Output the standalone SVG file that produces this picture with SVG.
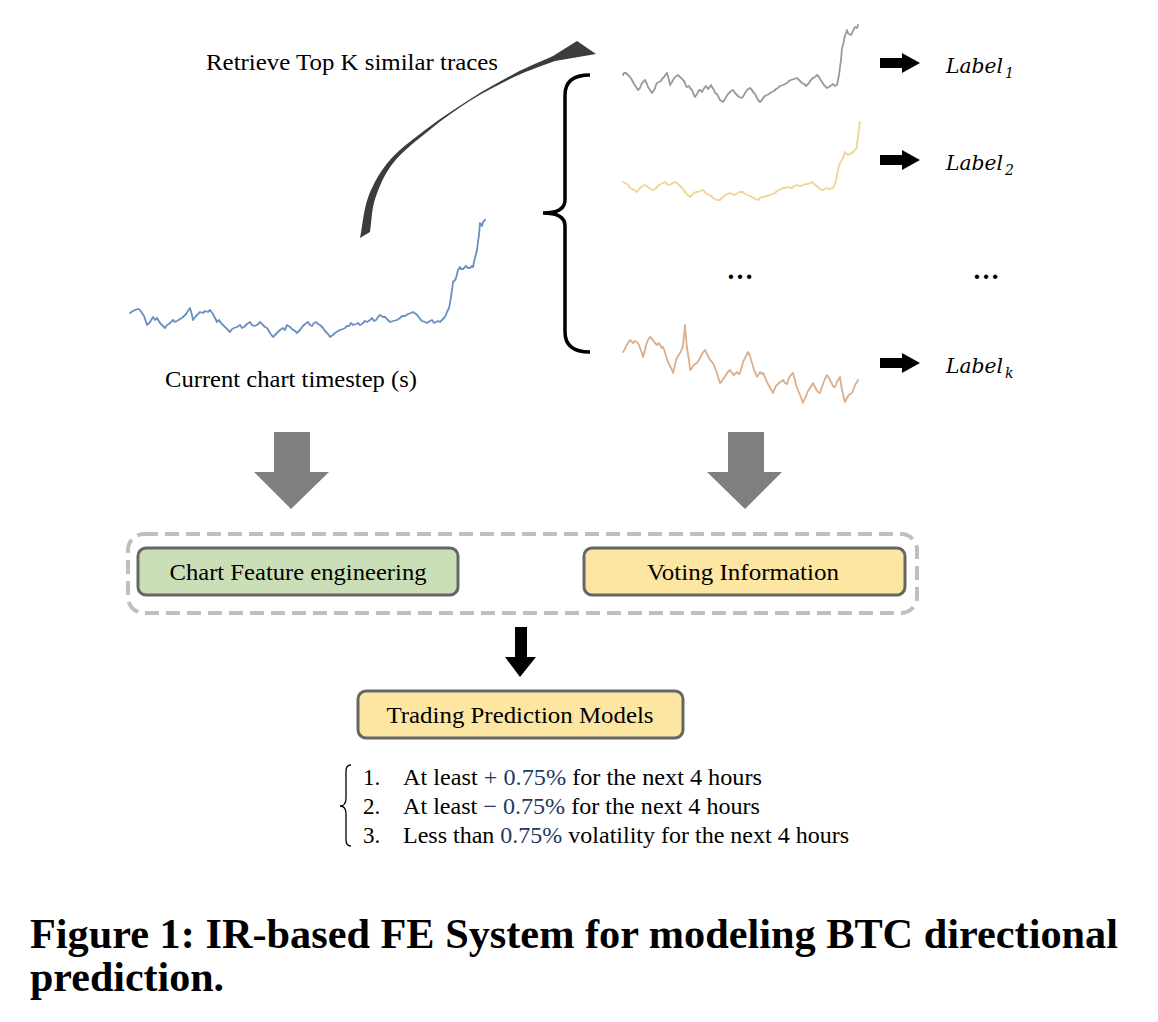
<svg xmlns="http://www.w3.org/2000/svg" width="1158" height="1022" viewBox="0 0 1158 1022">
<style>
.t{font-family:"Liberation Serif","Times New Roman",serif;fill:#000}
.lbl{font-family:"DejaVu Serif",serif;font-style:italic;fill:#000}
.trace{fill:none;stroke-width:1.8;stroke-linejoin:round;stroke-linecap:round}
.box{stroke:#666;stroke-width:3}
.m{fill:#1f3a60}
</style>
<rect width="1158" height="1022" fill="#fff"/>
<g id="retrieve-label"><text class="t" x="206" y="70" font-size="24" textLength="292" lengthAdjust="spacingAndGlyphs">Retrieve Top K similar traces</text></g>
<g id="current-chart">
<polyline class="trace" stroke="#6a8fc0" points="130,313 133,311 135,310 138,309 140,310 142,313 144,316 147,325 150,322 153,317 155,320 157,318 160,323 163,326 165,328 167,325 169,324 171,322 173,320 175,322 177,321 180,319 182,318 184,316 186,314 188,311 190,308 192,315 193,320 196,316 198,314 200,312 203,313 205,311 208,312 210,310 213,314 215,318 217,322 219,320 221,323 223,325 225,327 228,330 230,332 232,329 234,328 237,327 240,325 242,328 244,327 247,324 250,322 252,325 254,326 257,325 260,322 262,324 265,327 267,328 270,333 273,337 275,335 278,332 280,330 283,328 285,330 287,325 290,327 292,329 295,331 297,333 300,330 302,327 305,324 308,322 310,325 312,326 314,323 316,322 318,324 320,325 323,328 325,331 328,334 330,337 333,335 335,333 338,331 340,330 343,329 345,328 347,326 349,326 351,323 353,325 356,324 358,323 360,325 362,324 365,321 367,322 370,320 372,318 374,321 376,320 378,317 380,315 383,317 385,317 388,320 390,322 393,321 397,320 400,318 402,316 405,316 408,314 411,313 413,312 416,314 418,316 420,319 422,321 425,322 427,323 430,321 432,320 434,323 436,322 438,321 440,322 442,320 444,318 446,315 447,312 449,308 450,303 452,290 453,282 455,280 456,278 457,274 458,270 460,267 461,269 463,269 465,267 466,266 468,268 470,268 472,266 473,267 474,262 475,258 476,254 477,250 478,242 479,235 480,223 482,226 483,222 485,220"/>
<text class="t" x="165" y="387" font-size="24" textLength="252" lengthAdjust="spacingAndGlyphs">Current chart timestep (s)</text>
</g>
<g id="trace-1">
<polyline class="trace" stroke="#9a9a9a" points="623,75 624,73 626,73 628,75 630,77 632,80 634,84 636,87 638,90 640,88 641,85 643,82 645,80 647,84 648,87 650,90 652,93 654,90 655,88 656,85 657,83 659,82 661,81 662,79 664,77 666,74 667,73 669,80 670,85 672,82 673,80 675,77 678,75 680,77 682,79 684,81 685,83 686,86 687,87 689,86 690,88 692,90 693,93 694,95 695,97 697,94 698,92 699,90 700,90 702,92 703,90 705,87 706,86 708,89 709,88 711,85 712,87 714,90 715,93 717,94 718,96 720,100 723,102 725,99 726,97 728,94 730,92 731,91 733,90 735,93 737,95 739,97 742,98 744,95 745,93 747,90 750,88 752,90 753,92 755,94 756,96 758,100 760,102 762,100 763,98 765,96 767,95 769,94 770,93 772,92 774,91 776,89 778,88 780,86 783,85 785,84 787,83 789,81 791,80 794,79 797,78 799,80 800,81 802,83 804,84 806,86 807,85 809,83 810,81 812,79 813,78 815,77 817,75 819,77 820,79 822,82 824,85 826,87 827,88 829,87 830,86 832,85 833,84 835,86 837,85 838,80 839,75 840,67 841,60 842,48 843,45 844,40 845,36 847,30 848,33 849,34 851,35 852,33 854,29 855,27 857,28 858,25"/>
</g>
<g id="trace-2">
<polyline class="trace" stroke="#f0d596" points="623,182 625,183 627,184 629,186 630,188 632,189 634,190 636,191 637,192 639,189 641,187 643,186 645,185 647,186 649,188 651,189 653,190 655,189 657,187 659,185 661,184 663,183 665,182 667,184 669,185 671,184 673,183 675,182 677,183 679,185 681,187 683,189 685,192 687,194 688,195 690,197 692,195 694,193 696,192 698,192 700,191 703,190 705,192 707,194 709,195 711,196 713,198 715,199 717,200 720,200 722,198 724,196 727,194 730,193 732,194 734,195 736,194 738,193 740,192 743,192 745,194 747,195 750,196 752,197 755,199 758,200 760,198 762,197 764,197 766,196 768,196 770,195 772,194 775,193 777,191 779,190 781,189 783,188 785,188 788,187 790,188 792,188 794,186 797,185 799,186 801,186 803,185 806,184 808,184 810,183 812,182 813,183 815,185 817,186 819,188 820,189 822,190 823,190 825,189 827,188 829,189 830,189 832,188 833,188 835,184 836,180 837,175 838,170 839,166 840,163 842,160 843,158 844,155 845,152 847,154 848,155 850,154 851,153 852,153 853,152 854,151 855,150 856,149 857,147 857,143 858,138 859,128 860,122"/>
</g>
<g id="trace-k">
<polyline class="trace" stroke="#dcae8a" points="623,352 625,349 626,346 628,343 630,340 632,342 633,343 635,341 637,342 639,345 640,348 642,353 643,357 645,350 646,345 648,340 650,337 652,339 653,340 655,343 657,345 659,343 660,345 662,348 663,347 665,352 666,356 668,362 670,366 672,370 673,373 675,365 676,360 678,356 680,353 682,349 683,345 684,335 685,325 686,338 687,348 689,360 690,370 692,368 693,366 695,364 697,363 699,360 700,358 702,354 705,350 707,354 708,356 710,360 712,362 714,365 715,368 717,373 718,377 719,380 720,383 722,381 724,378 726,375 727,373 729,371 730,370 732,373 734,375 736,373 737,372 739,374 740,373 742,366 743,362 745,358 746,356 747,354 748,352 750,356 751,360 753,366 754,370 756,374 757,377 759,374 760,372 762,374 763,373 765,377 766,380 768,384 770,388 772,391 773,393 775,388 776,386 778,384 780,382 782,381 783,380 785,383 787,384 789,378 790,376 792,374 793,373 795,380 796,385 798,390 800,395 802,400 803,403 805,398 806,396 808,391 810,388 812,385 813,383 815,387 816,389 818,392 820,393 822,387 823,384 825,379 827,375 829,378 830,380 832,384 833,386 834,387 835,387 837,382 838,380 840,377 841,384 842,390 844,398 845,402 847,398 848,396 850,394 852,393 854,388 855,385 857,382 858,380"/>
</g>
<g id="dots">
<text class="t" x="740" y="279" font-size="27" font-weight="bold" text-anchor="middle">…</text>
<text class="t" x="986" y="279" font-size="27" font-weight="bold" text-anchor="middle">…</text>
</g>
<g id="label-1"><text class="lbl" x="946" y="73" font-size="21" textLength="57" lengthAdjust="spacingAndGlyphs">Label</text><text class="lbl" x="1005" y="78" font-size="14" font-style="normal">1</text></g>
<g id="label-2"><text class="lbl" x="946" y="170" font-size="21" textLength="57" lengthAdjust="spacingAndGlyphs">Label</text><text class="lbl" x="1005" y="175" font-size="14" font-style="normal">2</text></g>
<g id="label-k"><text class="lbl" x="946" y="373" font-size="21" textLength="57" lengthAdjust="spacingAndGlyphs">Label</text><text class="lbl" x="1005" y="378" font-size="14">k</text></g>
<g id="feature-eng"><rect class="box" x="138" y="548" width="320" height="47" rx="8" fill="#cadfb8"/><text class="t" x="298" y="580" font-size="24" text-anchor="middle" textLength="257" lengthAdjust="spacingAndGlyphs">Chart Feature engineering</text></g>
<g id="voting"><rect class="box" x="584" y="548" width="321" height="47" rx="8" fill="#fce6a2"/><text class="t" x="743" y="580" font-size="24" text-anchor="middle" textLength="192" lengthAdjust="spacingAndGlyphs">Voting Information</text></g>
<g id="trading"><rect class="box" x="358" y="691" width="325" height="47" rx="8" fill="#fce6a2"/><text class="t" x="520" y="723" font-size="24" text-anchor="middle" textLength="267" lengthAdjust="spacingAndGlyphs">Trading Prediction Models</text></g>
<g id="outcomes">
<path d="M 351,765 Q 346,765 346,771 L 346,798 Q 346,806 340,806 Q 346,806 346,814 L 346,840 Q 346,846 351,846" fill="none" stroke="#000" stroke-width="1.3"/>
<text class="t" font-size="23" x="363" y="785">1.</text>
<text class="t" font-size="23" x="403" y="785" textLength="359" lengthAdjust="spacingAndGlyphs">At least <tspan class="m">+ 0.75%</tspan> for the next 4 hours</text>
<text class="t" font-size="23" x="363" y="814">2.</text>
<text class="t" font-size="23" x="403" y="814" textLength="357" lengthAdjust="spacingAndGlyphs">At least <tspan class="m">− 0.75%</tspan> for the next 4 hours</text>
<text class="t" font-size="23" x="363" y="843">3.</text>
<text class="t" font-size="23" x="403" y="843" textLength="446" lengthAdjust="spacingAndGlyphs">Less than <tspan class="m">0.75%</tspan> volatility for the next 4 hours</text>
</g>
<g id="caption">
<text class="t" x="30" y="948" font-size="42" font-weight="bold" textLength="1088" lengthAdjust="spacingAndGlyphs">Figure 1: IR-based FE System for modeling BTC directional</text>
<text class="t" x="30" y="991" font-size="42" font-weight="bold">prediction.</text>
</g>
<g id="connectors">
<path d="M 360,238 C 362.9,223.9 363.6,208.9 368.7,195.8 C 373.8,182.7 380.3,171.1 390.4,159.6 C 400.5,148.1 416,137 429.2,127 C 442.4,117 455.4,108.3 469.6,99.4 C 483.8,90.5 500.4,80.9 514.3,73.7 C 528.2,66.5 540.1,61.9 553,56 L 577,41 L 596,54 L 555,61 C 541.9,66.1 529.8,69.7 515.7,76.3 C 501.6,82.9 484.6,91.8 470.4,100.6 C 456.3,109.4 443.6,118.7 430.8,129 C 418,139.3 402.9,150.9 393.6,162.4 C 384.4,173.9 379.2,186.6 375.3,198.2 C 371.4,209.8 371.8,220.7 370,232 Z" fill="#3c3c3c"/>
<path d="M 590,75 Q 565,75 565,95 L 565,200 Q 565,213 543,213 Q 565,213 565,226 L 565,332 Q 565,352 590,352" fill="none" stroke="#000" stroke-width="3.5"/>
<polygon points="880,58 902,58 902,53 920,63 902,73 902,68 880,68" fill="#000"/>
<polygon points="880,155 902,155 902,150 920,160 902,170 902,165 880,165" fill="#000"/>
<polygon points="880,358 902,358 902,353 920,363 902,373 902,368 880,368" fill="#000"/>
<polygon points="274,432 310,432 310,472 329,472 291,509 254,472 274,472" fill="#7f7f7f"/>
<polygon points="728,432 764,432 764,472 782,472 745,509 707,472 728,472" fill="#7f7f7f"/>
<rect x="128" y="534" width="789" height="79" rx="16" fill="none" stroke="#bfbfbf" stroke-width="4" stroke-dasharray="14 7"/>
<polygon points="515,627 527,627 527,657 536,657 520,677 505,657 515,657" fill="#000"/>
</g>
</svg>
